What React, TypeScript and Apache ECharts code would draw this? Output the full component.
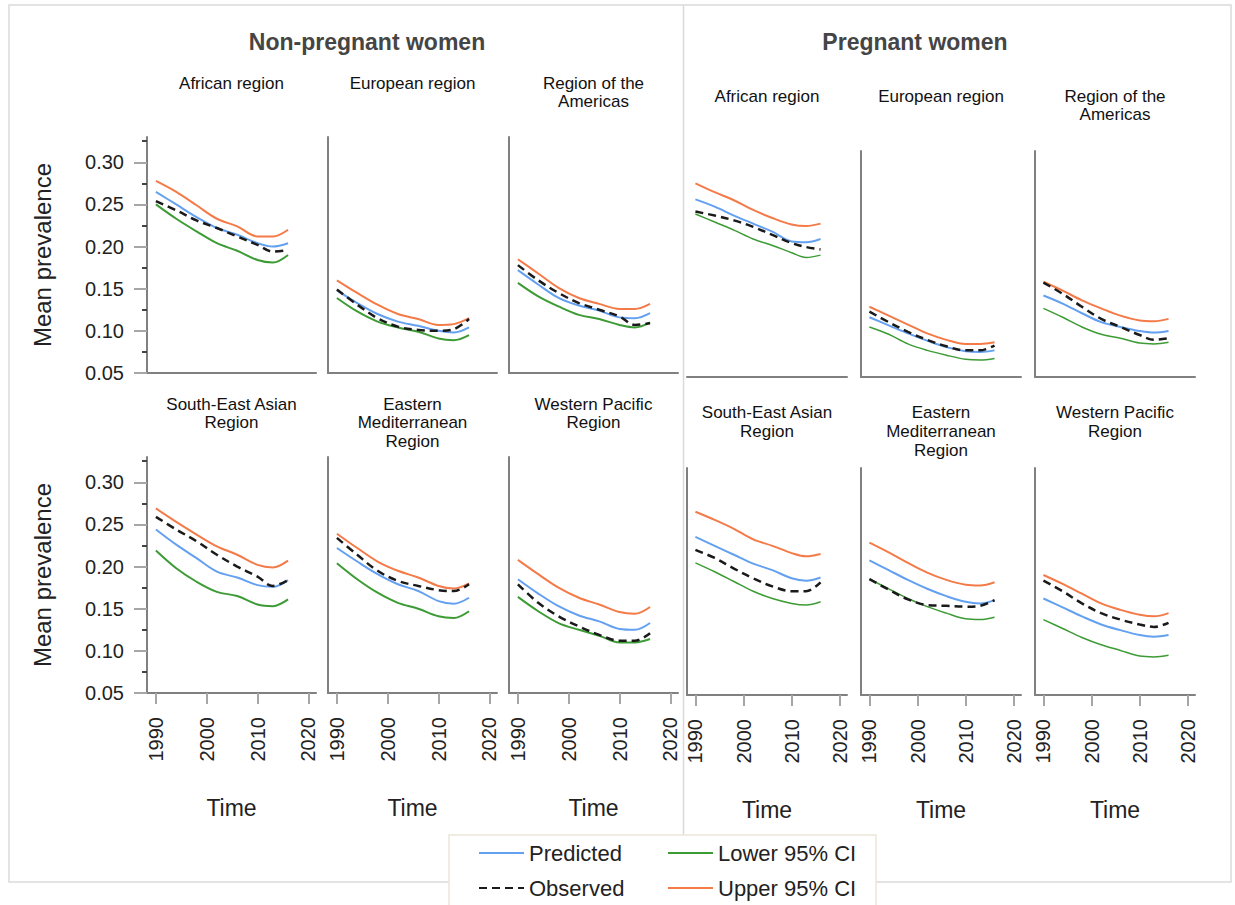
import React, { useEffect, useRef } from "react";
import * as echarts from "echarts";

// ---------- data ----------
const YEARS = [1990, 1994, 1998, 2002, 2006, 2010, 2013, 2016];
const X_TICKS = [1990, 2000, 2010, 2020];
const Y_TICKS = [0.05, 0.1, 0.15, 0.2, 0.25, 0.3];
const Y_MINOR = [0.075, 0.125, 0.175, 0.225, 0.275, 0.325];
const SERIES_NAMES = ["Predicted", "Observed", "Lower 95% CI", "Upper 95% CI"];
const GROUP_TITLES = ["Non-pregnant women", "Pregnant women"];
const REGION_TITLES = [
  "African region",
  "European region",
  "Region of the\nAmericas",
  "South-East Asian\nRegion",
  "Eastern\nMediterranean\nRegion",
  "Western Pacific\nRegion",
];

// Non-pregnant women: [predicted, observed, lower, upper]
const NP_AFRICAN = [
  [0.265, 0.25, 0.235, 0.222, 0.214, 0.204, 0.2, 0.204],
  [0.254, 0.243, 0.231, 0.222, 0.212, 0.202, 0.194, 0.196],
  [0.25, 0.233, 0.218, 0.204, 0.195, 0.184, 0.181, 0.19],
  [0.278, 0.265, 0.249, 0.233, 0.224, 0.212, 0.212, 0.22],
];
const NP_EUROPEAN = [
  [0.148, 0.133, 0.12, 0.111, 0.106, 0.1, 0.098, 0.104],
  [0.149, 0.131, 0.115, 0.105, 0.101, 0.1, 0.102, 0.114],
  [0.139, 0.123, 0.111, 0.104, 0.099, 0.091, 0.089, 0.095],
  [0.16, 0.145, 0.131, 0.12, 0.114, 0.107, 0.108, 0.115],
];
const NP_AMERICAS = [
  [0.172, 0.155, 0.139, 0.13, 0.124, 0.116, 0.115, 0.121],
  [0.178, 0.16, 0.145, 0.133, 0.125, 0.117, 0.107, 0.109],
  [0.157, 0.141, 0.129, 0.119, 0.114, 0.107, 0.104, 0.11],
  [0.185, 0.168, 0.151, 0.139, 0.132, 0.126, 0.126, 0.132],
];
const NP_SE_ASIAN = [
  [0.244, 0.226, 0.21, 0.194, 0.187, 0.178, 0.176, 0.184],
  [0.259, 0.244, 0.23, 0.214, 0.2, 0.188, 0.177, 0.184],
  [0.219, 0.198, 0.182, 0.17, 0.165, 0.155, 0.153, 0.161],
  [0.269, 0.253, 0.238, 0.224, 0.214, 0.202, 0.199, 0.207],
];
const NP_EAST_MED = [
  [0.222, 0.206, 0.191, 0.179, 0.171, 0.159, 0.156, 0.163],
  [0.234, 0.214, 0.195, 0.183, 0.177, 0.172, 0.171, 0.179],
  [0.204, 0.185, 0.169, 0.157, 0.15, 0.141, 0.139, 0.147],
  [0.239, 0.222, 0.206, 0.195, 0.187, 0.177, 0.174, 0.18],
];
const NP_WEST_PAC = [
  [0.185, 0.168, 0.153, 0.142, 0.135, 0.126, 0.125, 0.133],
  [0.179, 0.157, 0.141, 0.129, 0.119, 0.112, 0.112, 0.121],
  [0.164, 0.147, 0.133, 0.125, 0.118, 0.11, 0.11, 0.114],
  [0.208, 0.191, 0.175, 0.163, 0.155, 0.146, 0.144, 0.152],
];

// Pregnant women: [predicted, observed, lower, upper]
const P_AFRICAN = [
  [0.27, 0.261, 0.25, 0.24, 0.23, 0.218, 0.217, 0.221],
  [0.255, 0.25, 0.244, 0.236, 0.226, 0.216, 0.211, 0.208],
  [0.252, 0.242, 0.232, 0.221, 0.213, 0.204, 0.198, 0.201],
  [0.29, 0.279, 0.269, 0.257, 0.247, 0.239, 0.237, 0.24],
];
const P_EUROPEAN = [
  [0.124, 0.114, 0.104, 0.095, 0.087, 0.082, 0.081, 0.083],
  [0.131, 0.118, 0.106, 0.096, 0.088, 0.083, 0.083, 0.089],
  [0.112, 0.103, 0.091, 0.083, 0.077, 0.072, 0.071, 0.073],
  [0.137, 0.126, 0.115, 0.104, 0.096, 0.091, 0.091, 0.093],
];
const P_AMERICAS = [
  [0.151, 0.141, 0.129, 0.118, 0.112, 0.107, 0.105, 0.107],
  [0.167, 0.153, 0.137, 0.122, 0.112, 0.102, 0.096, 0.098],
  [0.135, 0.124, 0.112, 0.103, 0.098, 0.092, 0.091, 0.093],
  [0.168, 0.157, 0.145, 0.135, 0.126, 0.12, 0.119, 0.122],
];
const P_SE_ASIAN = [
  [0.245, 0.234, 0.223, 0.212, 0.204, 0.194, 0.191, 0.195],
  [0.229, 0.219, 0.206, 0.194, 0.184, 0.178, 0.178, 0.189],
  [0.213, 0.202, 0.19, 0.178, 0.169, 0.163, 0.161, 0.165],
  [0.276, 0.266, 0.255, 0.242, 0.234, 0.225, 0.221, 0.224],
];
const P_EAST_MED = [
  [0.216, 0.204, 0.192, 0.181, 0.172, 0.165, 0.163, 0.167],
  [0.193, 0.18, 0.168, 0.161, 0.16, 0.159, 0.16, 0.167],
  [0.193, 0.181, 0.169, 0.159, 0.151, 0.144, 0.143, 0.146],
  [0.238, 0.226, 0.213, 0.201, 0.192, 0.186, 0.185, 0.189],
];
const P_WEST_PAC = [
  [0.169, 0.158, 0.147, 0.137, 0.13, 0.124, 0.122, 0.124],
  [0.191, 0.178, 0.163, 0.151, 0.143, 0.137, 0.134, 0.139],
  [0.143, 0.132, 0.121, 0.112, 0.105, 0.098, 0.097, 0.099],
  [0.198, 0.187, 0.175, 0.163, 0.155, 0.149, 0.147, 0.151],
];

// ---------- layout / style ----------
const FONT = "'Liberation Sans', Arial, sans-serif";
const COLORS = ["#64a0f0", "#1a1a1a", "#3d9b35", "#f47a48"];
const X_MIN = 1988.25;
const X_MAX = 2021.5;
const Y_MIN = 0.05;
const Y_MAX = 0.33;

type Panel = {
  group: number;
  region: number;
  left: number;
  top: number;
  width: number;
  height: number;
  values: number[][];
  yLabels: boolean;
  yLine: boolean;
  xLabels: boolean;
  titleTop: number;
  lineHeight: number;
};

const LW = 169;
const RW = 160;
const PANELS: Panel[] = [
  { group: 0, region: 0, left: 147, top: 137, width: LW, height: 236, values: NP_AFRICAN, yLabels: true, yLine: true, xLabels: false, titleTop: 74, lineHeight: 18 },
  { group: 0, region: 1, left: 328, top: 137, width: LW, height: 236, values: NP_EUROPEAN, yLabels: false, yLine: true, xLabels: false, titleTop: 74, lineHeight: 18 },
  { group: 0, region: 2, left: 509, top: 137, width: LW, height: 236, values: NP_AMERICAS, yLabels: false, yLine: true, xLabels: false, titleTop: 74, lineHeight: 18 },
  { group: 0, region: 3, left: 147, top: 457, width: LW, height: 236, values: NP_SE_ASIAN, yLabels: true, yLine: true, xLabels: true, titleTop: 395, lineHeight: 18.5 },
  { group: 0, region: 4, left: 328, top: 457, width: LW, height: 236, values: NP_EAST_MED, yLabels: false, yLine: true, xLabels: true, titleTop: 395, lineHeight: 18.5 },
  { group: 0, region: 5, left: 509, top: 457, width: LW, height: 236, values: NP_WEST_PAC, yLabels: false, yLine: true, xLabels: true, titleTop: 395, lineHeight: 18.5 },
  { group: 1, region: 0, left: 687, top: 151, width: RW, height: 226, values: P_AFRICAN, yLabels: false, yLine: false, xLabels: false, titleTop: 87, lineHeight: 18 },
  { group: 1, region: 1, left: 861, top: 151, width: RW, height: 226, values: P_EUROPEAN, yLabels: false, yLine: true, xLabels: false, titleTop: 87, lineHeight: 18 },
  { group: 1, region: 2, left: 1035, top: 151, width: RW, height: 226, values: P_AMERICAS, yLabels: false, yLine: true, xLabels: false, titleTop: 87, lineHeight: 18 },
  { group: 1, region: 3, left: 687, top: 468, width: RW, height: 227, values: P_SE_ASIAN, yLabels: false, yLine: true, xLabels: true, titleTop: 403, lineHeight: 19 },
  { group: 1, region: 4, left: 861, top: 468, width: RW, height: 227, values: P_EAST_MED, yLabels: false, yLine: true, xLabels: true, titleTop: 403, lineHeight: 19 },
  { group: 1, region: 5, left: 1035, top: 468, width: RW, height: 227, values: P_WEST_PAC, yLabels: false, yLine: true, xLabels: true, titleTop: 403, lineHeight: 19 },
];

function buildOption() {
  const grid: any[] = [];
  const xAxis: any[] = [];
  const yAxis: any[] = [];
  const series: any[] = [];
  const title: any[] = [];

  title.push(
    { text: GROUP_TITLES[0], left: 367, top: 30, textAlign: "center", padding: 0, textStyle: { fontSize: 23, fontWeight: "bold", color: "#454545", fontFamily: FONT } },
    { text: GROUP_TITLES[1], left: 915, top: 30, textAlign: "center", padding: 0, textStyle: { fontSize: 23, fontWeight: "bold", color: "#454545", fontFamily: FONT } }
  );

  PANELS.forEach((p, i) => {
    grid.push({ left: p.left, top: p.top, width: p.width, height: p.height, containLabel: false });
    title.push({
      text: REGION_TITLES[p.region],
      left: p.left + p.width / 2,
      top: p.titleTop,
      textAlign: "center",
      padding: 0,
      textStyle: { fontSize: 17, color: "#111", fontFamily: FONT, lineHeight: p.lineHeight, fontWeight: "normal" },
    });
    xAxis.push({
      type: "value",
      gridIndex: i,
      min: X_MIN,
      max: X_MAX,
      splitLine: { show: false },
      axisLine: { show: true, onZero: false, lineStyle: { color: "#808080", width: 2 } },
      axisTick: p.xLabels
        ? { show: true, customValues: X_TICKS, length: 11, lineStyle: { color: "#a6a6a6", width: 2 } }
        : { show: false },
      axisLabel: p.xLabels
        ? { show: true, customValues: X_TICKS, rotate: 90, margin: 24, fontSize: 20, color: "#222", fontFamily: FONT, formatter: (v: number) => String(Math.round(v)) }
        : { show: false },
      name: p.xLabels ? "Time" : "",
      nameLocation: "middle",
      nameGap: 103,
      nameTextStyle: { fontSize: 23, color: "#222", fontFamily: FONT },
    });
    const yIdx = yAxis.length;
    yAxis.push({
      type: "value",
      gridIndex: i,
      min: Y_MIN,
      max: Y_MAX,
      splitLine: { show: false },
      axisLine: { show: p.yLine, onZero: false, lineStyle: { color: "#808080", width: 2 } },
      axisTick: p.yLabels
        ? { show: true, customValues: Y_TICKS, length: 13, lineStyle: { color: "#a6a6a6", width: 2 } }
        : { show: false },
      axisLabel: p.yLabels
        ? { show: true, customValues: Y_TICKS, margin: 23, fontSize: 20, color: "#222", fontFamily: FONT, formatter: (v: number) => v.toFixed(2) }
        : { show: false },
      name: p.yLabels ? "Mean prevalence" : "",
      nameLocation: "middle",
      nameGap: 93,
      nameTextStyle: { fontSize: 24, color: "#222", fontFamily: FONT },
    });
    if (p.yLabels) {
      yAxis.push({
        type: "value",
        gridIndex: i,
        min: Y_MIN,
        max: Y_MAX,
        position: "left",
        splitLine: { show: false },
        axisLine: { show: false },
        axisTick: { show: true, customValues: Y_MINOR, length: 5, lineStyle: { color: "#444", width: 2 } },
        axisLabel: { show: false },
      });
    }
    const right = p.group === 1;
    const order = [2, 3, 0, 1];
    order.forEach((k) => {
      const dashed = k === 1;
      let width = 2;
      if (dashed) width = 2.5;
      if (right && k === 2) width = 1.5;
      series.push({
        type: "line",
        name: SERIES_NAMES[k],
        xAxisIndex: i,
        yAxisIndex: yIdx,
        data: YEARS.map((yr, j) => [yr, p.values[k][j]]),
        symbol: "none",
        showSymbol: false,
        smooth: 0.35,
        silent: true,
        z: dashed ? 5 : 3,
        lineStyle: { color: COLORS[k], width, type: dashed ? [8, 5] : "solid" },
        itemStyle: { color: COLORS[k] },
        emphasis: { disabled: true },
      });
    });
  });

  const legendCommon = {
    orient: "vertical",
    top: 840,
    padding: 0,
    itemWidth: 45,
    itemHeight: 14,
    itemGap: 9,
    selectedMode: false,
    itemStyle: { opacity: 0 },
    textStyle: { fontSize: 22, color: "#222", fontFamily: FONT, lineHeight: 26 },
  };

  return {
    animation: false,
    backgroundColor: "#ffffff",
    title,
    grid,
    xAxis,
    yAxis,
    series,
    legend: [
      { ...legendCommon, left: 478, data: [SERIES_NAMES[0], SERIES_NAMES[1]] },
      { ...legendCommon, left: 667, data: [SERIES_NAMES[2], SERIES_NAMES[3]] },
    ],
    graphic: [
      { type: "rect", z: -10, shape: { x: 9, y: 5, width: 1222, height: 877 }, style: { fill: "none", stroke: "#dadada", lineWidth: 1.5 } },
      { type: "line", z: -10, shape: { x1: 683.5, y1: 5, x2: 683.5, y2: 882 }, style: { stroke: "#dadada", lineWidth: 1.5 } },
      { type: "rect", z: 1, shape: { x: 449, y: 835, width: 427, height: 72 }, style: { fill: "#ffffff", stroke: "#ebe6d8", lineWidth: 1.5 } },
    ],
  };
}

export default function App() {
  const ref = useRef<HTMLDivElement>(null);
  useEffect(() => {
    if (!ref.current) return;
    const chart = echarts.init(ref.current, undefined, { renderer: "svg" });
    chart.setOption(buildOption() as any);
    return () => chart.dispose();
  }, []);
  return (
    <div
      ref={ref}
      style={{ position: "fixed", left: 0, top: 0, width: 1235, height: 905, background: "#fff" }}
    />
  );
}
